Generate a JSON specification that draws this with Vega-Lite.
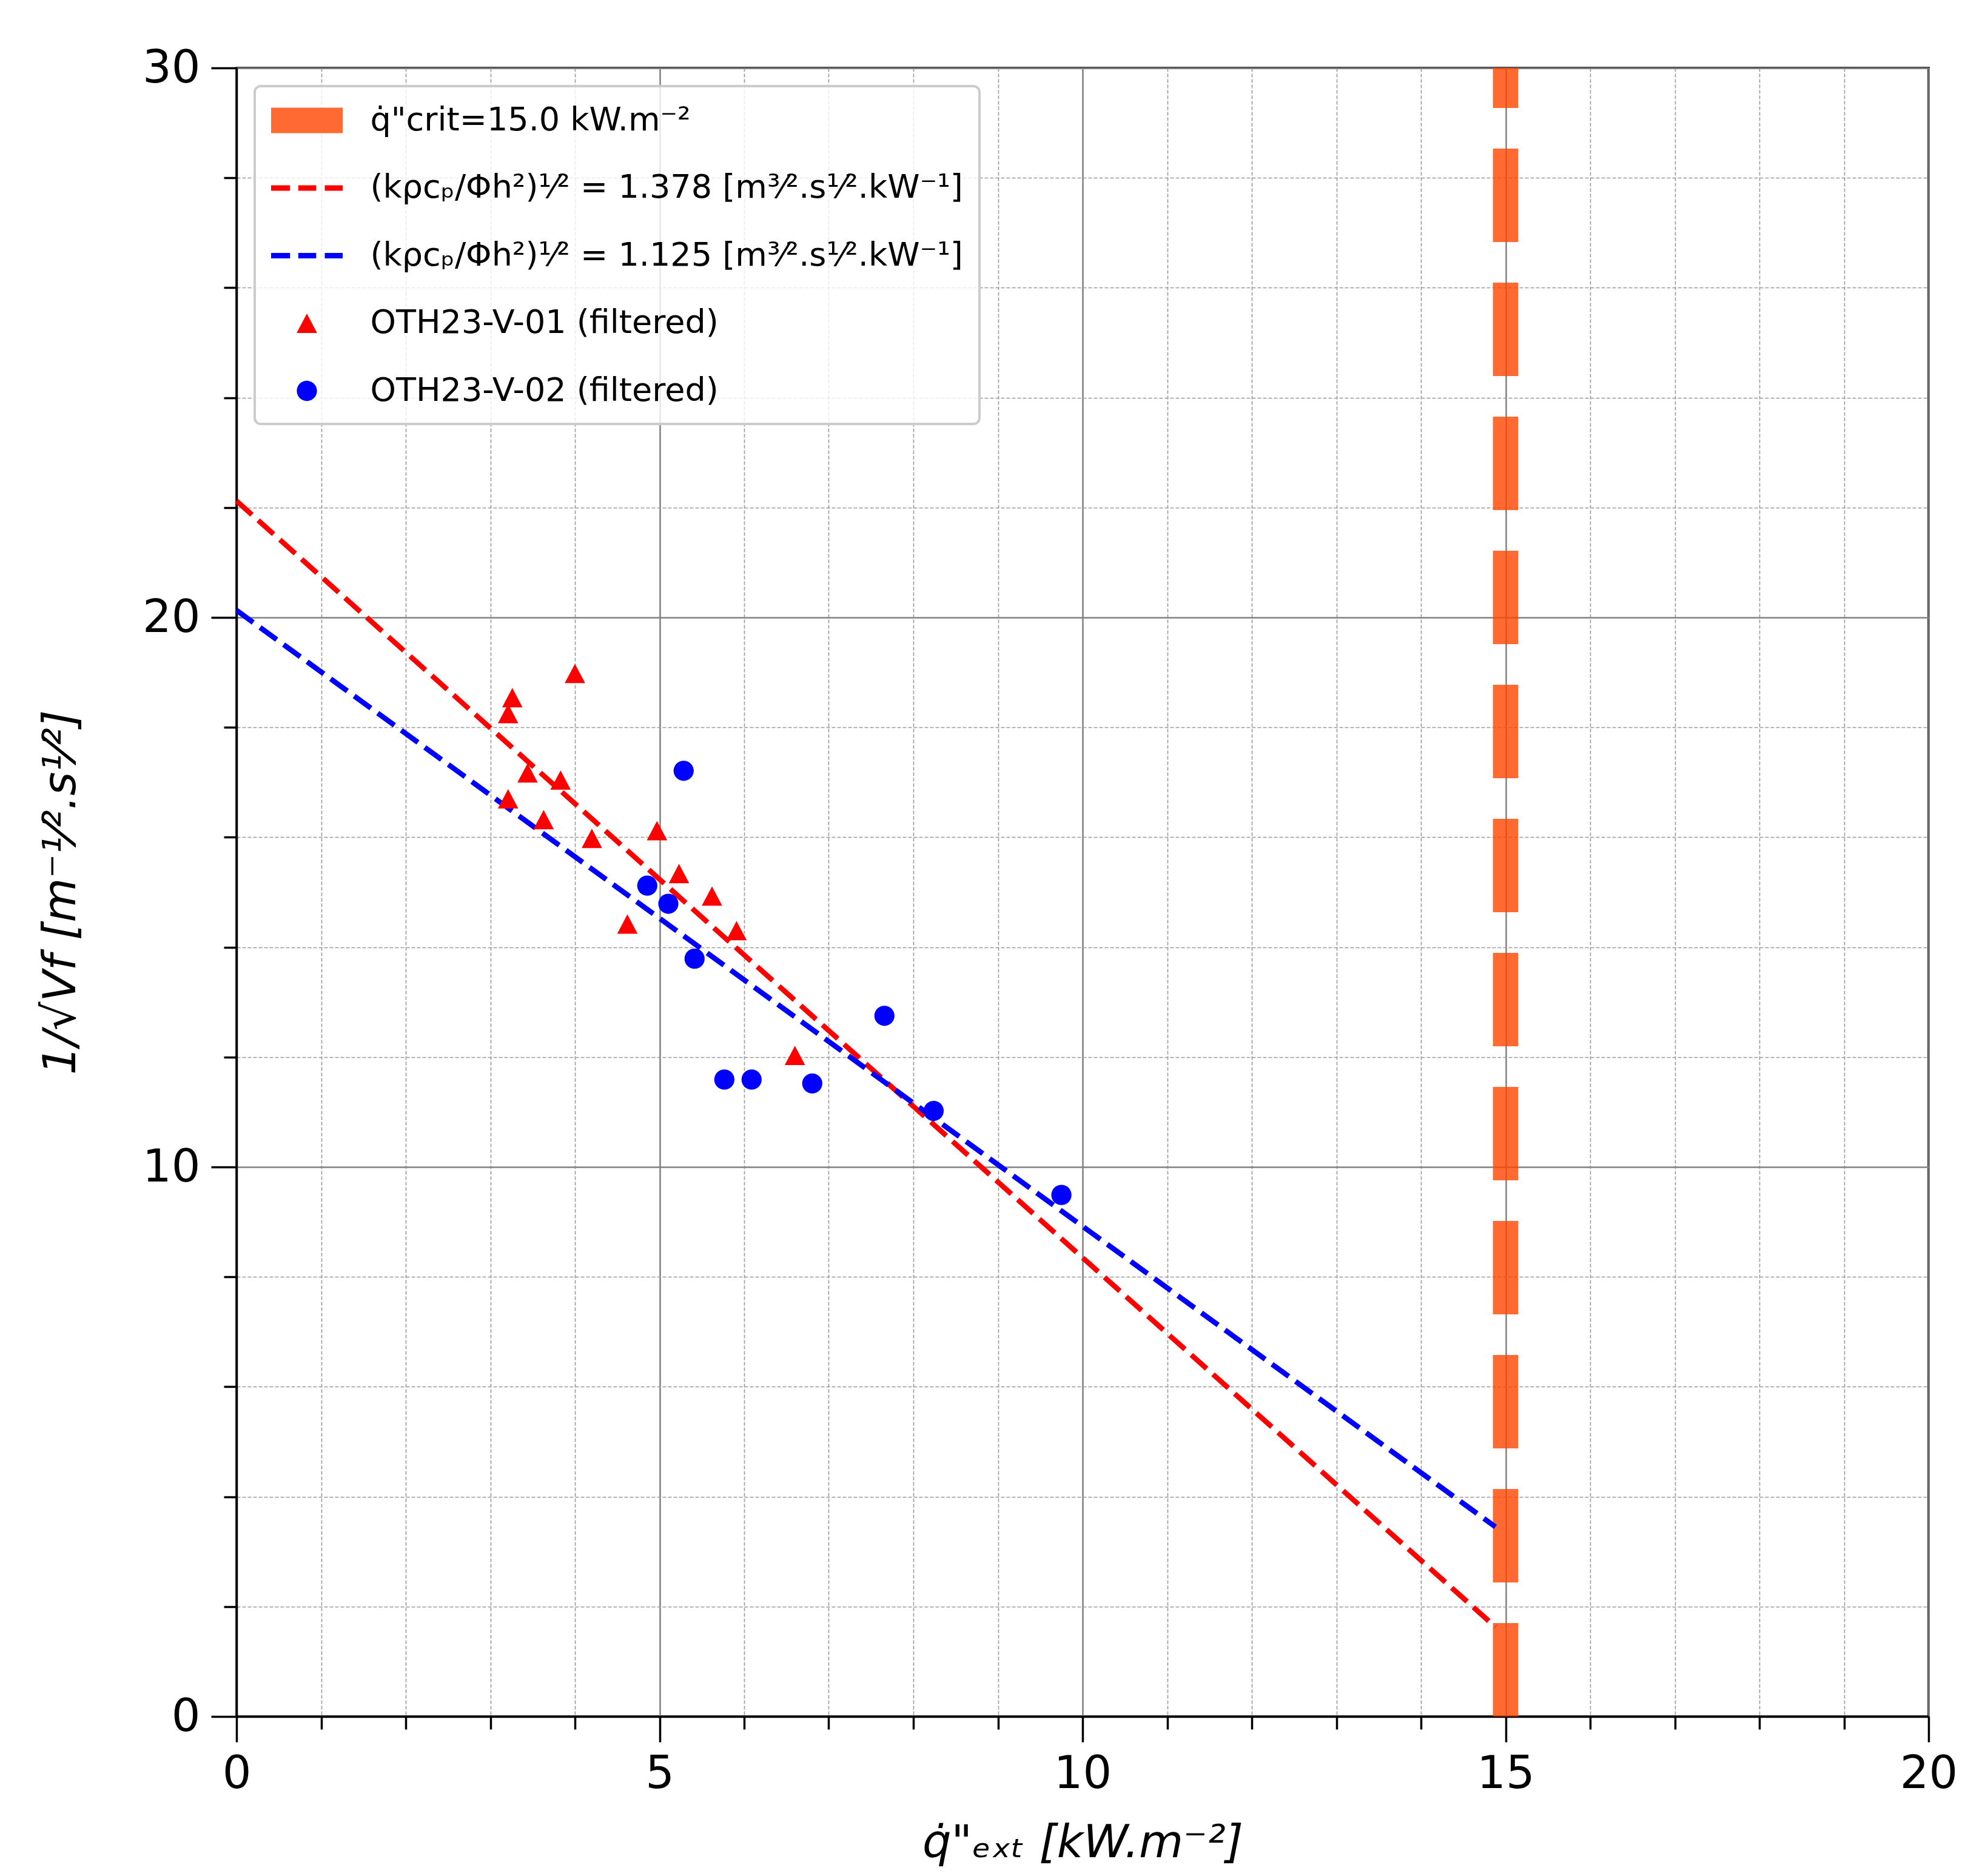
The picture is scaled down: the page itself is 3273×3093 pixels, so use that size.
{
  "$schema": "https://vega.github.io/schema/vega-lite/v6.json",
  "width": 2790,
  "height": 2718,
  "autosize": {"type": "none"},
  "padding": {"left": 390, "top": 112, "right": 93, "bottom": 263},
  "background": "white",
  "data": {
    "values": [
      {"set": "crit", "q": 15.0},
      {"set": "red", "q": 0.0, "inv": 22.12},
      {"set": "red", "q": 14.88, "inv": 1.63},
      {"set": "blue", "q": 0.0, "inv": 20.13},
      {"set": "blue", "q": 14.88, "inv": 3.45},
      {"set": "v01", "q": 3.26, "inv": 18.54},
      {"set": "v01", "q": 3.21, "inv": 18.25},
      {"set": "v01", "q": 4.0, "inv": 18.98},
      {"set": "v01", "q": 3.44, "inv": 17.17},
      {"set": "v01", "q": 3.83, "inv": 17.04},
      {"set": "v01", "q": 3.21, "inv": 16.7},
      {"set": "v01", "q": 3.63, "inv": 16.32},
      {"set": "v01", "q": 4.2, "inv": 15.98},
      {"set": "v01", "q": 4.97, "inv": 16.12},
      {"set": "v01", "q": 5.23, "inv": 15.34},
      {"set": "v01", "q": 5.62, "inv": 14.93},
      {"set": "v01", "q": 5.91, "inv": 14.3},
      {"set": "v01", "q": 4.62, "inv": 14.42},
      {"set": "v01", "q": 6.6, "inv": 12.03},
      {"set": "v02", "q": 5.285, "inv": 17.21},
      {"set": "v02", "q": 4.855, "inv": 15.12},
      {"set": "v02", "q": 5.104, "inv": 14.79},
      {"set": "v02", "q": 5.414, "inv": 13.79},
      {"set": "v02", "q": 7.658, "inv": 12.75},
      {"set": "v02", "q": 5.766, "inv": 11.59},
      {"set": "v02", "q": 6.088, "inv": 11.59},
      {"set": "v02", "q": 6.805, "inv": 11.52},
      {"set": "v02", "q": 8.24, "inv": 11.02},
      {"set": "v02", "q": 9.75, "inv": 9.49}
    ]
  },
  "encoding": {
    "x": {
      "field": "q",
      "type": "quantitative",
      "scale": {"domain": [0, 20], "nice": false, "zero": false},
      "axis": {
        "title": "q̇\"ₑₓₜ [kW.m⁻²]",
        "values": [0,1,2,3,4,5,6,7,8,9,10,11,12,13,14,15,16,17,18,19,20],
        "labelExpr": "datum.value % 5 === 0 ? datum.label : ''",
        "labelPadding": 16,
        "tickSize": {"condition": {"test": "datum.value % 5 === 0", "value": 42}, "value": 21},
        "gridColor": {"condition": {"test": "datum.value % 5 === 0", "value": "#808080"}, "value": "#9a9a9a"},
        "gridDash": {"condition": {"test": "datum.value % 5 === 0", "value": []}, "value": [6, 3]},
        "gridWidth": {"condition": {"test": "datum.value % 5 === 0", "value": 2.5}, "value": 1.6},
        "titlePadding": 40
      }
    },
    "y": {
      "field": "inv",
      "type": "quantitative",
      "scale": {"domain": [0, 30], "nice": false, "zero": false},
      "axis": {
        "title": "1/√Vf   [m⁻¹⁄².s¹⁄²]",
        "values": [0,2,4,6,8,10,12,14,16,18,20,22,24,26,28,30],
        "labelExpr": "datum.value % 10 === 0 ? datum.label : ''",
        "labelPadding": 18,
        "tickSize": {"condition": {"test": "datum.value % 10 === 0", "value": 42}, "value": 21},
        "gridColor": {"condition": {"test": "datum.value % 10 === 0", "value": "#808080"}, "value": "#9a9a9a"},
        "gridDash": {"condition": {"test": "datum.value % 10 === 0", "value": []}, "value": [6, 3]},
        "gridWidth": {"condition": {"test": "datum.value % 10 === 0", "value": 2.5}, "value": 1.6},
        "titlePadding": 95
      }
    }
  },
  "layer": [
    {
      "transform": [{"filter": "datum.set === 'crit'"}],
      "mark": {"type": "rule", "color": "orangered", "opacity": 0.8, "strokeWidth": 41.7, "strokeDash": [154, 67], "strokeDashOffset": 88},
      "encoding": {"y": null}
    },
    {
      "transform": [{"filter": "datum.set === 'red'"}],
      "mark": {"type": "line", "color": "red", "strokeWidth": 8.5, "strokeDash": [34, 14]}
    },
    {
      "transform": [{"filter": "datum.set === 'blue'"}],
      "mark": {"type": "line", "color": "blue", "strokeWidth": 8.5, "strokeDash": [34, 14]}
    },
    {
      "transform": [{"filter": "datum.set === 'v01' || datum.set === 'v02'"}],
      "mark": {"type": "point", "filled": true, "opacity": 1, "size": 3481, "strokeWidth": 0},
      "encoding": {
        "color": {
          "field": "set",
          "type": "nominal",
          "scale": {"domain": ["crit", "red", "blue", "v01", "v02"], "range": ["#ff6a33", "red", "blue", "red", "blue"]},
          "legend": {
            "title": null,
            "orient": "top-left",
            "offset": 30,
            "labelExpr": "datum.value === 'crit' ? 'q̇\"crit=15.0 kW.m⁻²' : datum.value === 'red' ? '(kρcₚ/Φh²)¹⁄² = 1.378 [m³⁄².s¹⁄².kW⁻¹]' : datum.value === 'blue' ? '(kρcₚ/Φh²)¹⁄² = 1.125 [m³⁄².s¹⁄².kW⁻¹]' : datum.value === 'v01' ? 'OTH23-V-01 (filtered)' : 'OTH23-V-02 (filtered)'"
          }
        },
        "shape": {
          "field": "set",
          "type": "nominal",
          "scale": {
            "domain": ["crit", "red", "blue", "v01", "v02"],
            "range": [
              "M-2,-0.712H2V0.712H-2Z",
              "M-2,-0.153H-0.94V0.153H-2ZM-0.48,-0.153H0.52V0.153H-0.48ZM1,-0.153H2V0.153H1Z",
              "M-2,-0.153H-0.94V0.153H-2ZM-0.48,-0.153H0.52V0.153H-0.48ZM1,-0.153H2V0.153H1Z",
              "M0,-0.54L-0.57,0.54L0.57,0.54Z",
              "M0.564,0A0.564,0.564,0,1,1,-0.564,0A0.564,0.564,0,1,1,0.564,0Z"
            ]
          },
          "legend": {
            "title": null,
            "orient": "top-left",
            "offset": 30,
            "labelExpr": "datum.value === 'crit' ? 'q̇\"crit=15.0 kW.m⁻²' : datum.value === 'red' ? '(kρcₚ/Φh²)¹⁄² = 1.378 [m³⁄².s¹⁄².kW⁻¹]' : datum.value === 'blue' ? '(kρcₚ/Φh²)¹⁄² = 1.125 [m³⁄².s¹⁄².kW⁻¹]' : datum.value === 'v01' ? 'OTH23-V-01 (filtered)' : 'OTH23-V-02 (filtered)'"
          }
        }
      }
    }
  ],
  "config": {
    "font": "DejaVu Sans",
    "view": {"stroke": "black", "strokeWidth": 3.5},
    "axis": {
      "labelFont": "DejaVu Sans",
      "labelFontSize": 75,
      "labelColor": "black",
      "labelFlush": false,
      "labelOverlap": false,
      "tickColor": "black",
      "tickWidth": 3.5,
      "domainColor": "black",
      "domainWidth": 3.5,
      "grid": true,
      "titleFont": "DejaVu Sans",
      "titleFontSize": 75,
      "titleFontWeight": "normal",
      "titleFontStyle": "italic",
      "titleColor": "black"
    },
    "legend": {
      "labelFont": "DejaVu Sans",
      "labelFontSize": 54,
      "labelColor": "black",
      "labelLimit": 3000,
      "labelOffset": 75,
      "symbolSize": 3481,
      "symbolOffset": 29.5,
      "symbolStrokeWidth": 0,
      "symbolOpacity": 1,
      "rowPadding": 54.5,
      "padding": 27,
      "fillColor": "rgba(255,255,255,0.8)",
      "strokeColor": "#cccccc",
      "strokeWidth": 4,
      "cornerRadius": 10
    }
  }
}
